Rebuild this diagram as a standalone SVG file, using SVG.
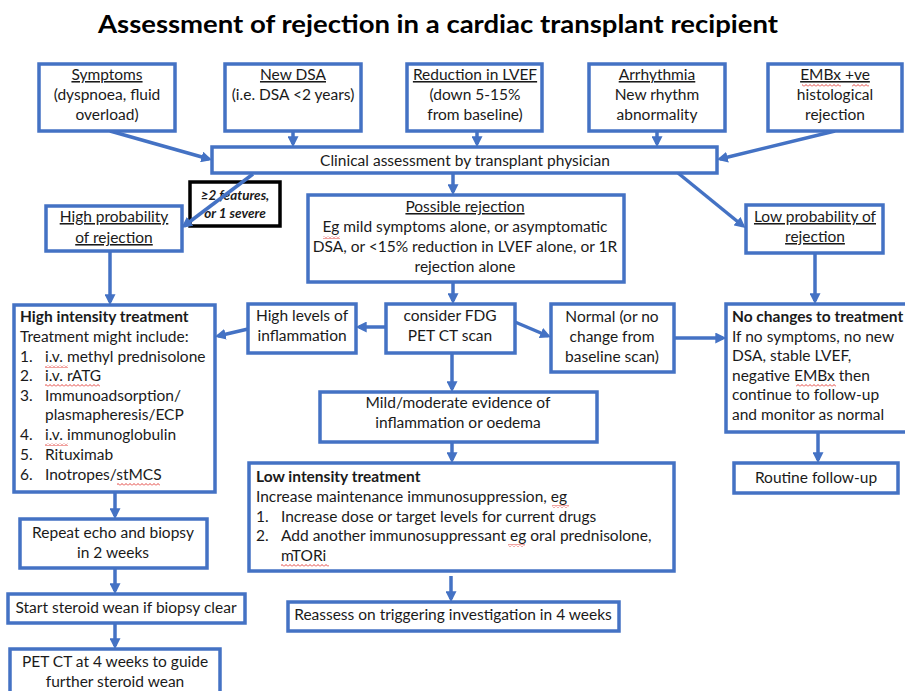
<svg xmlns="http://www.w3.org/2000/svg" width="905" height="691" viewBox="0 0 905 691">
<defs>
<marker id="ah" viewBox="0 0 10 10" refX="7" refY="5" markerWidth="11" markerHeight="11" markerUnits="userSpaceOnUse" orient="auto">
<path d="M0,0 L10,5 L0,10 z" fill="#4472C4"/>
</marker>
<pattern id="wavy" width="4" height="3" patternUnits="userSpaceOnUse">
<path d="M0,2.5 L2,0.5 L4,2.5" fill="none" stroke="#E0302A" stroke-width="0.9"/>
</pattern>
<style>
.box{fill:#fff;stroke:#4472C4;stroke-width:3.5}
.lbl{fill:#fff;stroke:#000;stroke-width:3.5}
.t{font-family:Lato,"Liberation Sans",sans-serif;font-size:15.5px;fill:#1a1a1a}
.c{text-anchor:middle}
.u{text-decoration:underline}
.b{font-weight:bold}
.bi{font-weight:bold;font-style:italic;font-size:13.5px}
.con{fill:none;stroke:#4472C4;stroke-width:3.5;marker-end:url(#ah)}
.sq{fill:url(#wavy)}
</style>
</defs>
<rect width="905" height="691" fill="#fff"/>
<text x="438" y="33" text-anchor="middle" font-family="Lato,'Liberation Sans',sans-serif" font-weight="bold" font-size="25" textLength="680" lengthAdjust="spacingAndGlyphs" fill="#000">Assessment of rejection in a cardiac transplant recipient</text>

<g id="label-features">
<rect class="lbl" x="190" y="182" width="90" height="44"/>
<text class="t c bi" x="235" y="200">≥2 features,</text>
<text class="t c bi" x="235" y="218">or 1 severe</text>
</g>

<g id="connectors">
<path class="con" d="M110,131 L209,159"/>
<path class="con" d="M293,131 L293,144"/>
<path class="con" d="M477,131 L477,144"/>
<path class="con" d="M657,131 L657,144"/>
<path class="con" d="M835,131 L720,159"/>
<path class="con" d="M253,174 L184,226"/>
<path class="con" d="M453,173 L453,192"/>
<path class="con" d="M678,173 L743,226"/>
<path class="con" d="M110,251 L110,302"/>
<path class="con" d="M453,282 L453,301"/>
<path class="con" d="M386,327 L359,327"/>
<path class="con" d="M248,329 L218,336"/>
<path class="con" d="M515,322 L548,336"/>
<path class="con" d="M674,338 L723,338"/>
<path class="con" d="M815,253 L815,301"/>
<path class="con" d="M452,353 L452,389"/>
<path class="con" d="M452,442 L452,460"/>
<path class="con" d="M451,576 L451,599"/>
<path class="con" d="M818,432 L818,460"/>
<path class="con" d="M115,492 L115,516"/>
<path class="con" d="M115,568 L115,591"/>
<path class="con" d="M115,623 L115,646"/>
</g>

<g id="symptoms">
<rect class="box" x="39" y="64" width="136" height="67"/>
<text class="t c" x="107" y="80"><tspan class="u">Symptoms</tspan></text>
<text class="t c" x="107" y="100">(dyspnoea, fluid</text>
<text class="t c" x="107" y="120">overload)</text>
</g>
<g id="new-dsa">
<rect class="box" x="225" y="64" width="136" height="67"/>
<text class="t c" x="293" y="80"><tspan class="u">New DSA</tspan></text>
<text class="t c" x="293" y="100">(i.e. DSA &lt;2 years)</text>
</g>
<g id="lvef">
<rect class="box" x="407" y="64" width="135" height="67"/>
<text class="t c" x="475" y="80"><tspan class="u">Reduction in LVEF</tspan></text>
<text class="t c" x="475" y="100">(down 5-15%</text>
<text class="t c" x="475" y="120">from baseline)</text>
</g>
<g id="arrhythmia">
<rect class="box" x="589" y="64" width="136" height="67"/>
<text class="t c" x="657" y="80"><tspan class="u">Arrhythmia</tspan></text>
<text class="t c" x="657" y="100">New rhythm</text>
<text class="t c" x="657" y="120">abnormality</text>
</g>
<g id="embx">
<rect class="box" x="768" y="64" width="134" height="67"/>
<text class="t c" x="835" y="80"><tspan class="u">EMBx +ve</tspan></text>
<text class="t c" x="835" y="100">histological</text>
<text class="t c" x="835" y="120">rejection</text>
<rect class="sq" x="802" y="84" width="39" height="3"/>
<rect class="sq" x="852" y="84" width="17" height="3"/>
</g>
<g id="clinical">
<rect class="box" x="212" y="147" width="505" height="26"/>
<text class="t c" x="465" y="166">Clinical assessment by transplant physician</text>
</g>
<g id="high-prob">
<rect class="box" x="46" y="206" width="136" height="45"/>
<text class="t c" x="114" y="222"><tspan class="u">High probability</tspan></text>
<text class="t c" x="114" y="243"><tspan class="u">of rejection</tspan></text>
</g>
<g id="possible">
<rect class="box" x="308" y="195" width="316" height="87"/>
<text class="t c" x="465" y="212"><tspan class="u">Possible rejection</tspan></text>
<text class="t c" x="465" y="232">Eg mild symptoms alone, or asymptomatic</text>
<text class="t c" x="465" y="252">DSA, or &lt;15% reduction in LVEF alone, or 1R</text>
<text class="t c" x="465" y="272">rejection alone</text>
<rect class="sq" x="323" y="236" width="17" height="3"/>
</g>
<g id="low-prob">
<rect class="box" x="746" y="205" width="137" height="48"/>
<text class="t c" x="815" y="222"><tspan class="u">Low probability of</tspan></text>
<text class="t c" x="815" y="242"><tspan class="u">rejection</tspan></text>
</g>
<g id="high-intensity">
<rect class="box" x="14" y="305" width="201" height="187"/>
<text class="t b" x="20" y="322">High intensity treatment</text>
<text class="t" x="20" y="342">Treatment might include:</text>
<text class="t" x="20" y="362">1.</text><text class="t" x="45" y="362">i.v. methyl prednisolone</text>
<text class="t" x="20" y="381">2.</text><text class="t" x="45" y="381">i.v. rATG</text>
<text class="t" x="20" y="401">3.</text><text class="t" x="45" y="401">Immunoadsorption/</text>
<text class="t" x="45" y="420">plasmapheresis/ECP</text>
<text class="t" x="20" y="440">4.</text><text class="t" x="45" y="440">i.v. immunoglobulin</text>
<text class="t" x="20" y="460">5.</text><text class="t" x="45" y="460">Rituximab</text>
<text class="t" x="20" y="480">6.</text><text class="t" x="45" y="480">Inotropes/stMCS</text>
<rect class="sq" x="45" y="365" width="23" height="3"/>
<rect class="sq" x="45" y="384" width="55" height="3"/>
<rect class="sq" x="45" y="443" width="23" height="3"/>
<rect class="sq" x="117" y="483" width="43" height="3"/>
</g>
<g id="high-levels">
<rect class="box" x="248" y="304" width="108" height="49"/>
<text class="t c" x="302" y="321">High levels of</text>
<text class="t c" x="302" y="341">inflammation</text>
</g>
<g id="fdg">
<rect class="box" x="386" y="304" width="129" height="49"/>
<text class="t c" x="450" y="321">consider FDG</text>
<text class="t c" x="450" y="341">PET CT scan</text>
</g>
<g id="normal">
<rect class="box" x="551" y="304" width="123" height="68"/>
<text class="t c" x="612" y="322">Normal (or no</text>
<text class="t c" x="612" y="342">change from</text>
<text class="t c" x="612" y="362">baseline scan)</text>
</g>
<g id="no-changes">
<rect class="box" x="726" y="304" width="185" height="128"/>
<text class="t b" x="732" y="322">No changes to treatment</text>
<text class="t" x="732" y="342">If no symptoms, no new</text>
<text class="t" x="732" y="361">DSA, stable LVEF,</text>
<text class="t" x="732" y="381">negative EMBx then</text>
<text class="t" x="732" y="400">continue to follow-up</text>
<text class="t" x="732" y="420">and monitor as normal</text>
<rect class="sq" x="796" y="384" width="40" height="3"/>
</g>
<g id="mild">
<rect class="box" x="320" y="392" width="277" height="50"/>
<text class="t c" x="458" y="408">Mild/moderate evidence of</text>
<text class="t c" x="458" y="428">inflammation or oedema</text>
</g>
<g id="routine">
<rect class="box" x="734" y="463" width="164" height="30"/>
<text class="t c" x="816" y="483">Routine follow-up</text>
</g>
<g id="low-intensity">
<rect class="box" x="249" y="463" width="425" height="108"/>
<text class="t b" x="256" y="482">Low intensity treatment</text>
<text class="t" x="256" y="502">Increase maintenance immunosuppression, eg</text>
<text class="t" x="256" y="522">1.</text><text class="t" x="281" y="522">Increase dose or target levels for current drugs</text>
<text class="t" x="256" y="541">2.</text><text class="t" x="281" y="541">Add another immunosuppressant eg oral prednisolone,</text>
<text class="t" x="281" y="561">mTORi</text>
<rect class="sq" x="552" y="505" width="17" height="3"/>
<rect class="sq" x="508" y="544" width="17" height="3"/>
<rect class="sq" x="281" y="564" width="48" height="3"/>
</g>
<g id="reassess">
<rect class="box" x="288" y="602" width="331" height="29"/>
<text class="t c" x="453" y="620">Reassess on triggering investigation in 4 weeks</text>
</g>
<g id="repeat">
<rect class="box" x="20" y="519" width="187" height="49"/>
<text class="t c" x="113" y="538">Repeat echo and biopsy</text>
<text class="t c" x="113" y="558">in 2 weeks</text>
</g>
<g id="start-wean">
<rect class="box" x="8" y="594" width="237" height="29"/>
<text class="t c" x="126" y="613">Start steroid wean if biopsy clear</text>
</g>
<g id="pet-ct">
<rect class="box" x="10" y="649" width="210" height="55"/>
<text class="t c" x="115" y="667">PET CT at 4 weeks to guide</text>
<text class="t c" x="115" y="687">further steroid wean</text>
</g>
</svg>
